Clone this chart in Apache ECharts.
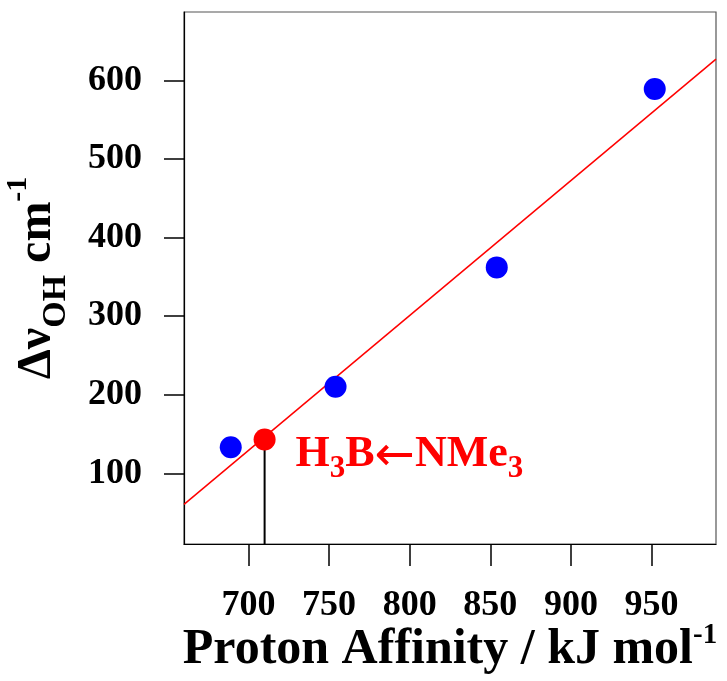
<!DOCTYPE html>
<html><head><meta charset="utf-8">
<script src="https://cdn.jsdelivr.net/npm/echarts@6/dist/echarts.min.js"></script>
<style>html,body{margin:0;padding:0;background:#fff}#c{width:727px;height:681px}</style>
</head><body><div id="c"></div>
<script>
const xTicks = [700, 750, 800, 850, 900, 950];
const yTicks = [100, 200, 300, 400, 500, 600];
const blueX = [689, 754, 854, 952];
const blueY = [133, 210, 362, 589];
const redX = [710];
const redY = [143];
const fitX = [660, 990];
const fitY = [60.5, 627];
const dropX = [710, 710];
const dropY = [143, 10];
const xRange = [660, 990];
const yRange = [10, 687];

const FONT = 'Liberation Serif';
const zip = (a, b) => a.map((v, i) => [v, b[i]]);

const chart = echarts.init(document.getElementById('c'));
chart.setOption({
  animation: false,
  backgroundColor: '#fff',
  grid: { left: 184, top: 12, right: 11, bottom: 137, containLabel: false, outerBoundsMode: 'none',
          show: true, borderColor: '#555', borderWidth: 1.2 },
  xAxis: {
    type: 'value', min: xRange[0], max: xRange[1],
    splitLine: { show: false },
    axisLine: { show: true, onZero: false, lineStyle: { color: '#000', width: 1.2 } },
    axisTick: { show: true, customValues: xTicks, length: 22, lineStyle: { color: '#000', width: 1.5 } },
    axisLabel: { customValues: xTicks, margin: 44, fontFamily: FONT, fontWeight: 'bold', fontSize: 36, color: '#000' },
    name: '{m|Proton Affinity / kJ mol}{s|-1}',
    nameLocation: 'middle', nameGap: 77, nameMoveOverlap: false,
    nameTextStyle: {
      rich: {
        m: { fontFamily: FONT, fontWeight: 'bold', fontSize: 50, color: '#000', lineHeight: 58 },
        s: { fontFamily: FONT, fontWeight: 'bold', fontSize: 29, color: '#000', lineHeight: 28, verticalAlign: 'top' }
      }
    }
  },
  yAxis: {
    type: 'value', min: yRange[0], max: yRange[1],
    splitLine: { show: false },
    axisLine: { show: true, onZero: false, lineStyle: { color: '#000', width: 1.2 } },
    axisTick: { show: true, customValues: yTicks, length: 20, lineStyle: { color: '#000', width: 1.5 } },
    axisLabel: { customValues: yTicks, margin: 42, fontFamily: FONT, fontWeight: 'bold', fontSize: 36, color: '#000' },
    name: '{m|Δν}{b|OH}{m| cm}{t|-1}',
    nameLocation: 'middle', nameGap: 111, nameRotate: 90, nameMoveOverlap: false,
    nameTextStyle: {
      rich: {
        m: { fontFamily: FONT, fontWeight: 'bold', fontSize: 48, color: '#000', lineHeight: 70 },
        b: { fontFamily: FONT, fontWeight: 'bold', fontSize: 34, color: '#000', lineHeight: 33, verticalAlign: 'bottom' },
        t: { fontFamily: FONT, fontWeight: 'bold', fontSize: 30, color: '#000', lineHeight: 40, verticalAlign: 'top' }
      }
    }
  },
  series: [
    { type: 'line', data: zip(fitX, fitY), symbol: 'none', lineStyle: { color: '#ff0000', width: 1.5 }, z: 2 },
    { type: 'line', data: zip(dropX, dropY), symbol: 'none', lineStyle: { color: '#000', width: 2 }, z: 3 },
    { type: 'scatter', data: zip(blueX, blueY), symbol: 'circle', symbolSize: 22, itemStyle: { color: '#0000ff', opacity: 1 }, z: 4 },
    { type: 'scatter', data: zip(redX, redY), symbol: 'circle', symbolSize: 22, itemStyle: { color: '#ff0000', opacity: 1 }, z: 5,
      label: {
        show: true, position: 'right', distance: 5, offset: [15, 15],
        formatter: '{m|H}{s|3}{m|B}{a|←}{m|NMe}{s|3}',
        rich: {
          m: { fontFamily: FONT, fontWeight: 'bold', fontSize: 44, color: '#ff0000', lineHeight: 60 },
          a: { fontFamily: 'DejaVu Sans', fontWeight: 'normal', fontSize: 48, color: '#ff0000', lineHeight: 60, padding: [6, 0, 0, 0] },
          s: { fontFamily: FONT, fontWeight: 'bold', fontSize: 31, color: '#ff0000', lineHeight: 33, verticalAlign: 'bottom' }
        }
      }
    }
  ]
});
</script></body></html>
